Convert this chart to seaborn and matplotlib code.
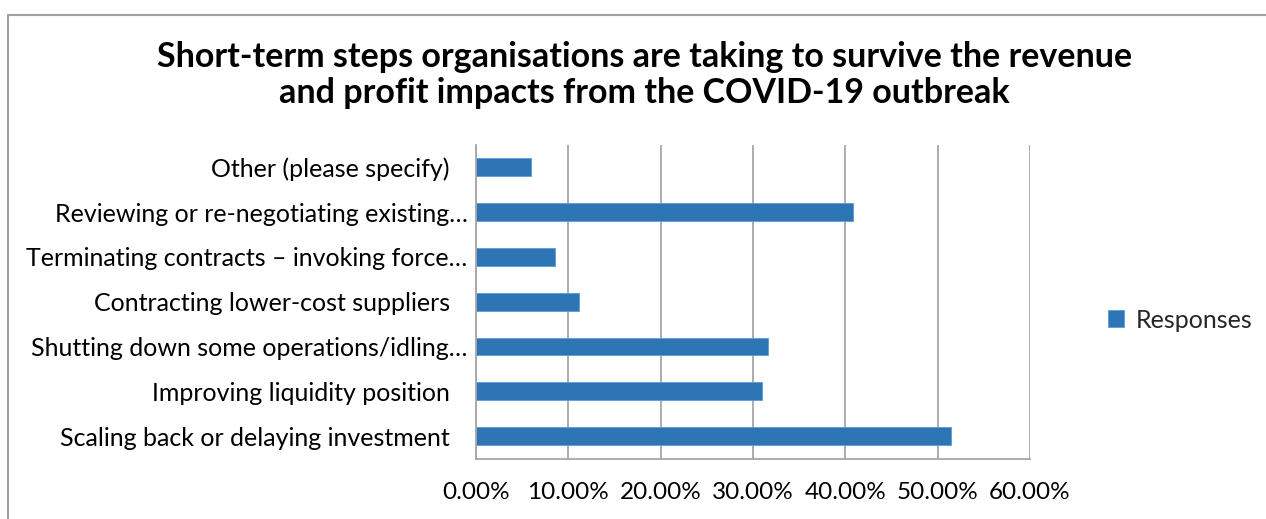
import matplotlib
matplotlib.use("Agg")
import matplotlib.pyplot as plt
import matplotlib.transforms as mtransforms
from matplotlib.lines import Line2D
from matplotlib.ticker import FuncFormatter, FixedLocator
import seaborn as sns
import pandas as pd

# Survey answers, top to bottom
steps = [
    "Other (please specify)",
    "Reviewing or re-negotiating existing…",
    "Terminating contracts – invoking force…",
    "Contracting lower-cost suppliers",
    "Shutting down some operations/idling…",
    "Improving liquidity position",
    "Scaling back or delaying investment",
]
share = [0.0593, 0.4086, 0.0857, 0.1120, 0.3160, 0.3094, 0.5140]
series_name = "Responses"
x_ticks = [0.0, 0.1, 0.2, 0.3, 0.4, 0.5, 0.6]
title = ("Short-term steps organisations are taking to survive the revenue\n"
         "and profit impacts from the COVID-19 outbreak")

df = pd.DataFrame({"step": steps, "share": share, "series": series_name})

sns.set_theme(style="white")
plt.rcParams["font.family"] = ["Lato", "DejaVu Sans"]

W, H = 1266, 519
fig = plt.figure(figsize=(W / 100, H / 100), dpi=100)
ax = fig.add_axes([476 / W, 1 - 458.5 / H, (1030 - 476) / W, (458.5 - 145) / H])

bar_color = "#2E75B6"
sns.barplot(data=df, y="step", x="share", hue="series", order=steps,
            palette=[bar_color], orient="h", width=0.4, ax=ax,
            edgecolor="#5B9BD5", linewidth=0.6, saturation=1)

ax.set_xlim(0, 0.6)
ax.set_ylim(len(steps) - 0.5, -0.5)
ax.set_xlabel("")
ax.set_ylabel("")

grid_c = "#A6A6A6"
ax.xaxis.set_major_locator(FixedLocator(x_ticks))
ax.xaxis.set_major_formatter(FuncFormatter(lambda v, p: f"{v * 100:.2f}%"))
ax.grid(axis="x", color=grid_c, linewidth=1.3)
ax.set_axisbelow(True)
for side in ["top", "right"]:
    ax.spines[side].set_visible(False)
for side in ["left", "bottom"]:
    ax.spines[side].set_color(grid_c)
    ax.spines[side].set_linewidth(1.3)

ax.tick_params(axis="x", which="major", direction="out", length=8, width=1.3,
               color=grid_c, pad=9, labelsize=17.5, labelcolor="#000000")
ax.tick_params(axis="y", which="major", length=0, pad=6, labelsize=18,
               labelcolor="#000000")
ax.yaxis.set_minor_locator(FixedLocator([i - 0.5 for i in range(len(steps) + 1)]))
ax.tick_params(axis="y", which="minor", direction="out", length=9, width=1.3,
               color=grid_c)

# Full-length labels sit a little further from the axis than truncated ones
shift = mtransforms.ScaledTranslation(-18 / 100, 0, fig.dpi_scale_trans)
for lab in ax.get_yticklabels():
    if not lab.get_text().endswith("…"):
        lab.set_transform(lab.get_transform() + shift)

leg = ax.legend(loc="center left", bbox_to_anchor=(1108 / W, 1 - 320 / H),
                bbox_transform=fig.transFigure, frameon=False, fontsize=18,
                handlelength=0.65, handleheight=0.65, handletextpad=0.45,
                borderpad=0, borderaxespad=0)

fig.text(644.5 / W, 1 - 75 / H, title, ha="center", va="center",
         fontsize=24.5, fontweight="bold", color="#000000",
         linespacing=1.15, family=["Lato", "DejaVu Sans"])

# Chart frame
frame_c = "#A0A0A0"
fig.add_artist(Line2D([8 / W, 1], [1 - 14.5 / H, 1 - 14.5 / H],
                      transform=fig.transFigure, color=frame_c, linewidth=1.5))
fig.add_artist(Line2D([8 / W, 8 / W], [0, 1 - 14.5 / H],
                      transform=fig.transFigure, color=frame_c, linewidth=1.5))

fig.savefig("out.png", dpi=100)
